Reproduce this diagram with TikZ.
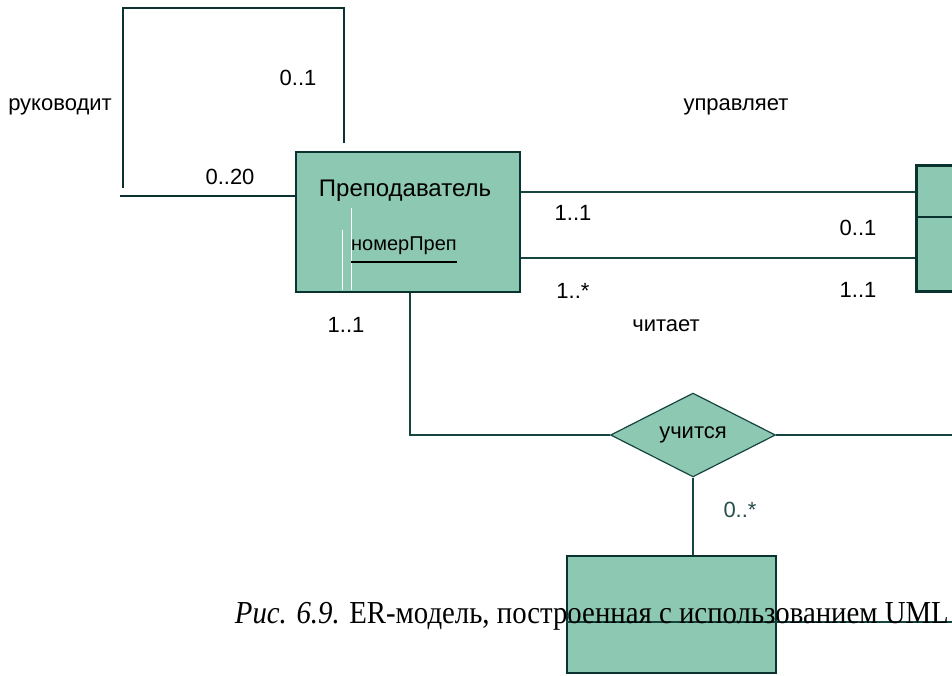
\documentclass[tikz,border=0pt]{standalone}
\usepackage{fontspec}
\setmainfont{Liberation Serif}
\newfontfamily\lab{Liberation Sans}
\usetikzlibrary{shapes.geometric}
\definecolor{entfill}{HTML}{8DC8B3}
\definecolor{entedge}{HTML}{0A3330}
\definecolor{link}{HTML}{164540}
\definecolor{multc}{HTML}{234F4C}
\tikzset{
  entity/.style={draw=entedge, fill=entfill, line width=2.6pt, inner sep=0pt},
  relbox/.style={diamond, draw=link, fill=entfill, line width=1.2pt, inner sep=0pt,
    minimum width=165pt, minimum height=74pt, font=\lab\fontsize{22}{22}\selectfont},
  thick link/.style={draw=entedge, line width=2.6pt},
  thin link/.style={draw=link, line width=1.6pt},
  mult/.style={font=\lab\fontsize{22}{22}\selectfont, inner sep=0pt},
}
\begin{document}
\begin{tikzpicture}[x=1pt, y=-1pt]
\useasboundingbox (0,0) rectangle (952,675);
\clip (0,0) rectangle (952,675);

% entities
\node[entity, minimum width=224pt, minimum height=140pt] (prep) at (408,222) {};
\node[entity, anchor=north west, minimum width=80pt, minimum height=126pt] (other) at (915,164) {};
\draw[entedge, line width=2.6pt] (other.west |- 0,217) -- (other.east |- 0,217);
\node[entity, line width=2pt, anchor=north west, minimum width=209pt, minimum height=117pt] (lower) at (566,555) {};

% faint white strokes inside the teacher box
\draw[white, line width=0.8pt] (342,230) -- (342,290);
\draw[white, line width=0.8pt] (351,208) -- (351,290);

% entity captions
\node[font=\lab\fontsize{24}{24}\selectfont, inner sep=0pt] (prepname) at (405,191) {Преподаватель};
\node[font=\lab\fontsize{20}{20}\selectfont, inner sep=0pt] (prepkey) at (404,246) {номерПреп};
\draw[black, line width=2.4pt] (prepkey.south west |- 0,262) -- (prepkey.south east |- 0,262);

% recursive association
\coordinate (loopA) at (344,143);
\coordinate (loopB) at (344,8);
\coordinate (loopC) at (123,8);
\coordinate (loopD) at (123,188);
\coordinate (loopE) at (120,196);
\draw[thick link] (loopA) -- (loopB) -- (loopC) -- (loopD);
\draw[thick link] (loopE) -- (prep.west |- loopE);

% associations to the right entity
\draw[thin link] (prep.east |- 0,192) -- (other.west |- 0,192);
\draw[thin link] (prep.east |- 0,258) -- (other.west |- 0,258);

% ternary relationship
\node[relbox] (rel) at (693,435) {учится};
\coordinate (bend) at (410,435);
\coordinate (relR) at (952,435);
\draw[thin link] (prep.south -| bend) -- (bend) -- (rel.west);
\draw[thin link] (rel.east) -- (relR);
\draw[thin link] (rel.south) -- (lower.north -| rel.south);
\coordinate (lowR) at (952,622);
\draw[link, line width=1.4pt] (lower.west |- lowR) -- (lowR);

% multiplicities and role names
\node[mult] (m1) at (60,107) {руководит};
\node[mult] (m2) at (298,78) {0..1};
\node[mult] (m3) at (230,177) {0..20};
\node[mult] (m4) at (736,107) {управляет};
\node[mult] (m5) at (573,213) {1..1};
\node[mult] (m6) at (858,228) {0..1};
\node[mult] (m7) at (573,291) {1..*};
\node[mult] (m8) at (858,290) {1..1};
\node[mult] (m9) at (346,325) {1..1};
\node[mult] (m10) at (666,326) {читает};
\node[mult, text=multc] (m11) at (740,510) {0..*};

% figure caption
\node[anchor=base east, inner sep=0pt, xscale=0.9, font=\fontsize{32}{32}\selectfont] (cap) at (949,623)
  {\textit{Рис. 6.9.} ER-модель, построенная с использованием UML};
\end{tikzpicture}
\end{document}
